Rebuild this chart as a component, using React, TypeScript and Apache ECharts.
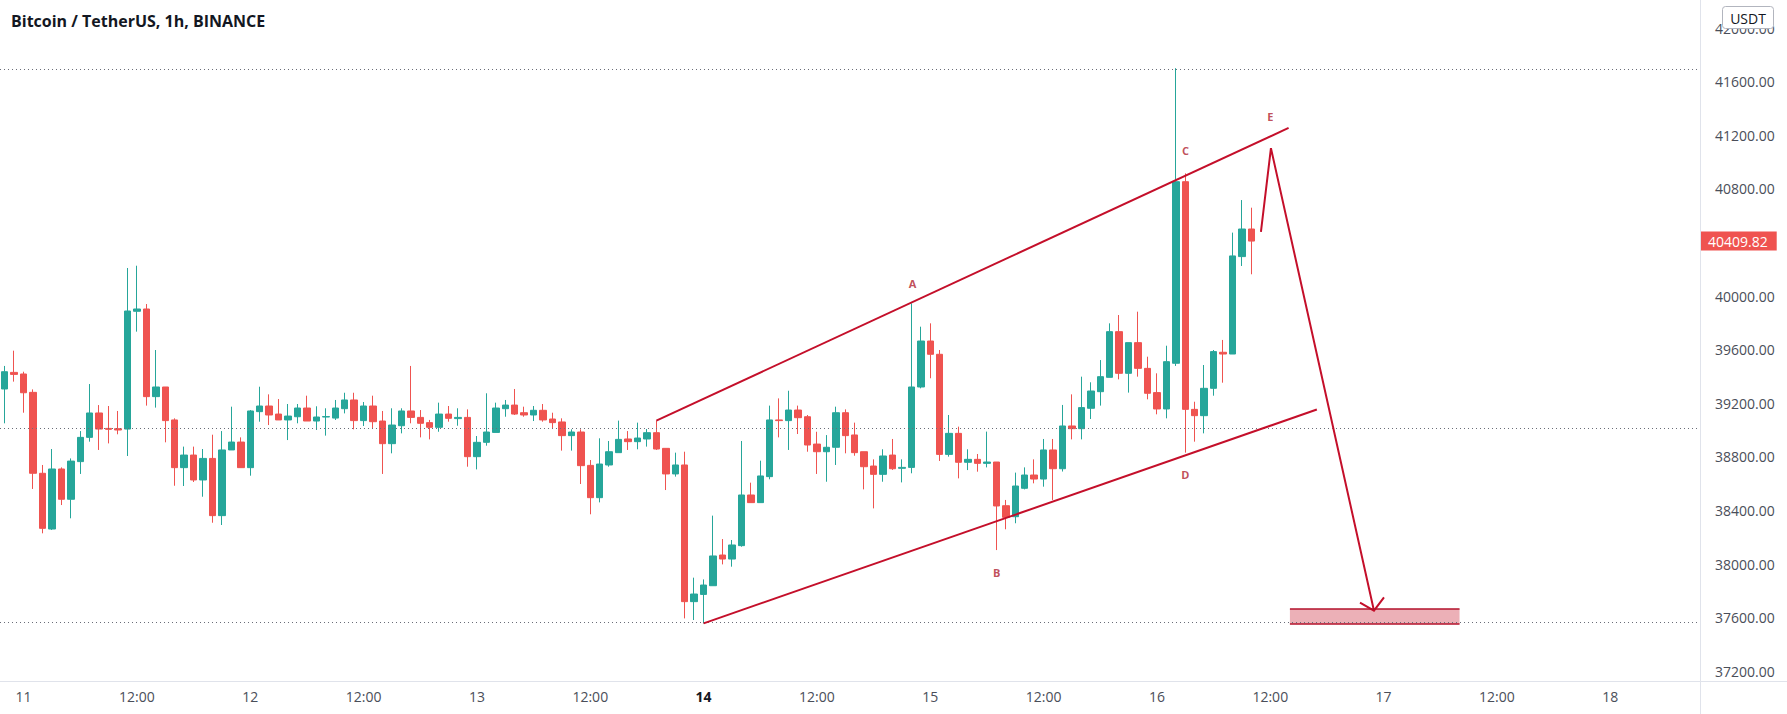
import React, { useEffect, useRef } from "react";
import * as echarts from "echarts";

// ---- Candle data (1h BTC/USDT, from 10 May 22:00) ----
const opens = [
  39306, 39430, 39418, 39281, 38677, 38261, 38709, 38483, 38764, 38945,
  39127, 39012, 39010, 39007, 39886, 39903, 39249, 39321, 39075, 38719,
  38813, 38627, 38788, 38361, 38851, 38910, 38719, 39137, 39179, 39119,
  39075, 39099, 39164, 39067, 39097, 39089, 39159, 39224, 39070, 39179,
  39067, 38898, 39032, 39142, 39094, 39055, 39020, 39119, 39085, 39094,
  38801, 38908, 38982, 39159, 39186, 39129, 39112, 39147, 39082, 39060,
  38958, 38985, 38736, 38495, 38739, 38831, 38933, 38913, 38933, 38980,
  38863, 38672, 38739, 37719, 37773, 37838, 38067, 38037, 38137, 38515,
  38458, 38652, 39075, 39070, 39149, 39099, 38895, 38838, 38871, 39129,
  38963, 38838, 38731, 38669, 38813, 38714, 38721, 39321, 39664, 39565,
  38818, 38975, 38759, 38781, 38751, 38761, 38435, 38353, 38565, 38664,
  38634, 38851, 38711, 39030, 39010, 39162, 39286, 39393, 39734, 39423,
  39652, 39460, 39279, 39157, 39498, 40853, 39154, 39107, 39311, 39580,
  39567, 40294, 40500,
];
const highs = [
  39478, 39592, 39435, 39303, 38739, 38858, 38721, 38788, 38992, 39343,
  39186, 39179, 39142, 40209, 40226, 39940, 39597, 39321, 39087, 38876,
  38876, 38858, 38965, 38992, 39174, 38945, 39149, 39323, 39266, 39231,
  39194, 39194, 39256, 39177, 39162, 39224, 39278, 39278, 39209, 39256,
  39142, 39162, 39162, 39478, 39149, 39075, 39204, 39179, 39162, 39154,
  38955, 39274, 39204, 39224, 39306, 39174, 39179, 39194, 39129, 39087,
  39005, 39005, 38776, 38938, 38918, 39070, 38992, 39055, 39007, 39070,
  38863, 38831, 38838, 37898, 37885, 38361, 38186, 38179, 38918, 38607,
  38771, 39182, 39236, 39293, 39182, 39112, 38987, 38962, 39174, 39154,
  39055, 38838, 38781, 38856, 38933, 38781, 39945, 39771, 39796, 39597,
  39112, 39025, 38856, 38821, 38988, 38761, 38478, 38682, 38721, 38781,
  38933, 38933, 39187, 39266, 39398, 39356, 39522, 39796, 39858, 39652,
  39883, 39547, 39423, 39629, 41700, 40915, 39211, 39485, 39597, 39672,
  40473, 40716, 40659,
];
const lows = [
  39050, 39361, 39129, 38560, 38229, 38254, 38440, 38341, 38672, 38913,
  38851, 38900, 38968, 38806, 39734, 39182, 39167, 38908, 38584, 38582,
  38612, 38502, 38308, 38291, 38851, 38719, 38659, 39062, 39037, 39075,
  38925, 39050, 39067, 39000, 38958, 39075, 39124, 39005, 39030, 39007,
  38672, 38826, 38975, 39050, 38945, 38930, 38987, 39062, 39032, 38726,
  38706, 38883, 38982, 39099, 39112, 39099, 39067, 39062, 39007, 38846,
  38846, 38597, 38371, 38460, 38726, 38831, 38851, 38856, 38876, 38851,
  38552, 38652, 37594, 37582, 37557, 37838, 37997, 37980, 38129, 38458,
  38458, 38632, 38945, 38851, 38970, 38838, 38672, 38614, 38739, 38826,
  38808, 38557, 38415, 38614, 38702, 38609, 38677, 39311, 39386, 38769,
  38801, 38639, 38701, 38689, 38721, 38104, 38259, 38304, 38557, 38602,
  38577, 38478, 38690, 38930, 38930, 39082, 39182, 39393, 39378, 39279,
  39398, 39229, 39117, 39087, 39478, 38831, 38913, 38975, 39256, 39353,
  39567, 40224, 40162,
];
const closes = [
  39435, 39415, 39278, 38677, 38266, 38709, 38483, 38768, 38945, 39127,
  39007, 39005, 39000, 39888, 39903, 39249, 39321, 39070, 38719, 38813,
  38627, 38788, 38361, 38851, 38910, 38719, 39142, 39179, 39112, 39075,
  39104, 39164, 39067, 39097, 39100, 39164, 39224, 39070, 39179, 39062,
  38898, 39037, 39142, 39094, 39050, 39020, 39119, 39087, 39094, 38801,
  38908, 38985, 39164, 39186, 39119, 39112, 39147, 39075, 39055, 38958,
  38985, 38734, 38495, 38746, 38838, 38930, 38913, 38940, 38980, 38858,
  38672, 38739, 37719, 37776, 37843, 38060, 38037, 38142, 38515, 38458,
  38657, 39075, 39070, 39149, 39092, 38888, 38838, 38871, 39129, 38958,
  38831, 38726, 38669, 38806, 38711, 38721, 39321, 39664, 39565, 38818,
  38975, 38759, 38781, 38751, 38761, 38433, 38348, 38582, 38664, 38634,
  38851, 38711, 39030, 39010, 39167, 39291, 39398, 39734, 39423, 39652,
  39460, 39274, 39157, 39510, 40853, 39154, 39107, 39311, 39585, 39567,
  40299, 40500, 40409.82,
];

const lastPrice = 40409.82;
const levelLines = [41690, 39010, 37565];

// Drawing annotations: [hour index from 10 May 22:00, price]
const upperChannel = [[69, 39070], [135.94, 41254]];
const lowerChannel = [[74, 37557], [138.93, 39153]];
const projection = [[133.01, 40478], [134.07, 41103], [144.98, 37651.5]];
const arrowHead = [[143.5, 37711], [144.98, 37651.5], [146.04, 37751.5]];
const targetZone = { from: 136.08, to: 154.04, top: 37664, bottom: 37552 };
const waveLabels = [
  { name: "A", value: [96.11, 40095] },
  { name: "B", value: [105.04, 37940] },
  { name: "C", value: [125.02, 41084] },
  { name: "D", value: [125.0, 38671] },
  { name: "E", value: [134.0, 41337] },
];

const HOURS = 180;
const startUTC = Date.UTC(2022, 4, 10, 22);
const categories: string[] = [];
for (let k = 0; k < HOURS; k++) {
  const d = new Date(startUTC + k * 3600 * 1000);
  categories.push(d.getUTCDate() + " " + d.getUTCHours());
}

const UP = "#26a69a";
const DOWN = "#ef5350";
const DRAW = "#c40f2a";
const LABEL = "#b0222f";
const FONT = "'Open Sans', sans-serif";
const AXIS_TXT = "#4a4e59";

export default function App() {
  const ref = useRef<HTMLDivElement>(null);
  useEffect(() => {
    const chart = echarts.init(ref.current as HTMLDivElement, null, { renderer: "svg" });
    const candleData = opens.map((o, i) => [o, closes[i], lows[i], highs[i]]);
    const lineSeries = (name: string, data: number[][], width = 2, color = DRAW) => ({
      type: "line",
      name,
      xAxisIndex: 1,
      yAxisIndex: 0,
      data,
      symbol: "none",
      silent: true,
      z: 5,
      lineStyle: { color, width, join: "miter", cap: "butt" },
    });
    const option: any = {
      animation: false,
      backgroundColor: "#ffffff",
      grid: { left: -3.65, right: 87, top: 28, bottom: 42.8, containLabel: false },
      xAxis: [
        {
          type: "category",
          data: categories,
          boundaryGap: true,
          offset: 10,
          axisLine: { show: false },
          axisTick: { show: false },
          splitLine: { show: false },
          axisLabel: {
            margin: 8,
            fontSize: 14,
            fontFamily: FONT,
            color: AXIS_TXT,
            interval: (idx: number) => {
              const h = Number(categories[idx].split(" ")[1]);
              return h === 0 || h === 12;
            },
            formatter: (v: string) => {
              const [d, h] = v.split(" ");
              if (h === "12") return "12:00";
              if (d === "14") return "{b|14}";
              return d;
            },
            rich: { b: { fontWeight: "bold", fontSize: 14, fontFamily: FONT, color: "#131722" } },
          },
        },
        { type: "value", min: -0.5, max: HOURS - 0.5, show: false },
      ],
      yAxis: {
        type: "value",
        position: "right",
        min: 37200,
        max: 42000,
        interval: 400,
        axisLine: { show: false },
        axisTick: { show: false },
        splitLine: { show: false },
        axisLabel: {
          margin: 15,
          align: "left",
          fontSize: 14,
          fontFamily: FONT,
          color: AXIS_TXT,
          // the last-price tag covers the tick next to it
          formatter: (v: number) => (Math.abs(v - lastPrice) < 100 ? "" : v.toFixed(2)),
        },
      },
      series: [
        {
          type: "candlestick",
          data: candleData,
          barWidth: 7,
          itemStyle: { color: UP, color0: DOWN, borderColor: UP, borderColor0: DOWN, borderWidth: 1 },
          markLine: {
            silent: true,
            symbol: ["none", "none"],
            animation: false,
            data: [
              ...levelLines.map((y) => ({
                yAxis: y,
                lineStyle: { color: "#6a6d78", type: [1, 3], width: 1 },
                label: { show: false },
              })),
              {
                yAxis: lastPrice,
                lineStyle: { color: "rgba(0,0,0,0)", width: 0 },
                label: {
                  show: true,
                  position: "end",
                  distance: 0,
                  formatter: lastPrice.toFixed(2),
                  backgroundColor: DOWN,
                  color: "#ffffff",
                  fontSize: 14,
                  fontFamily: FONT,
                  padding: [3, 9, 2, 8],
                },
              },
            ],
          },
        },
        lineSeries("upper", upperChannel),
        lineSeries("lower", lowerChannel),
        lineSeries("projection", projection),
        lineSeries("arrowHead", arrowHead),
        {
          type: "line",
          xAxisIndex: 1,
          yAxisIndex: 0,
          data: [],
          silent: true,
          markArea: {
            silent: true,
            itemStyle: { color: "rgba(200,30,50,0.35)" },
            data: [[
              { coord: [targetZone.from, targetZone.top] },
              { coord: [targetZone.to, targetZone.bottom] },
            ]],
          },
        },
        lineSeries("zoneTop", [[targetZone.from, targetZone.top], [targetZone.to, targetZone.top]], 1.5, "#b3122b"),
        lineSeries("zoneBottom", [[targetZone.from, targetZone.bottom], [targetZone.to, targetZone.bottom]], 1.5, "#b3122b"),
        {
          type: "scatter",
          xAxisIndex: 1,
          yAxisIndex: 0,
          symbolSize: 0,
          silent: true,
          data: waveLabels,
          label: {
            show: true,
            position: "inside",
            formatter: "{b}",
            color: LABEL,
            fontSize: 11,
            fontWeight: "bold",
            fontFamily: FONT,
          },
        },
      ],
      graphic: [
        { type: "line", z: 50, shape: { x1: 0, y1: 681.5, x2: 1787, y2: 681.5 }, style: { stroke: "#e0e3eb", lineWidth: 1 } },
        { type: "line", z: 50, shape: { x1: 1700.5, y1: 0, x2: 1700.5, y2: 714 }, style: { stroke: "#e0e3eb", lineWidth: 1 } },
        {
          type: "text",
          z: 60,
          x: 11,
          y: 21,
          style: { text: "Bitcoin / TetherUS, 1h, BINANCE", fontSize: 16, fontWeight: "bold", fontFamily: FONT, fill: "#131722", verticalAlign: "middle" },
        },
        {
          type: "rect",
          z: 60,
          shape: { x: 1722.5, y: 6.5, width: 51, height: 22, r: 3 },
          style: { fill: "#ffffff", stroke: "#b2b5be", lineWidth: 1 },
        },
        {
          type: "text",
          z: 61,
          x: 1748,
          y: 18,
          style: { text: "USDT", fontSize: 14, fontFamily: FONT, fill: "#131722", align: "center", verticalAlign: "middle" },
        },
      ],
    };
    chart.setOption(option);
    return () => chart.dispose();
  }, []);
  return (
    <div
      ref={ref}
      style={{ position: "fixed", left: 0, top: 0, width: 1787, height: 714, background: "#fff" }}
    />
  );
}
